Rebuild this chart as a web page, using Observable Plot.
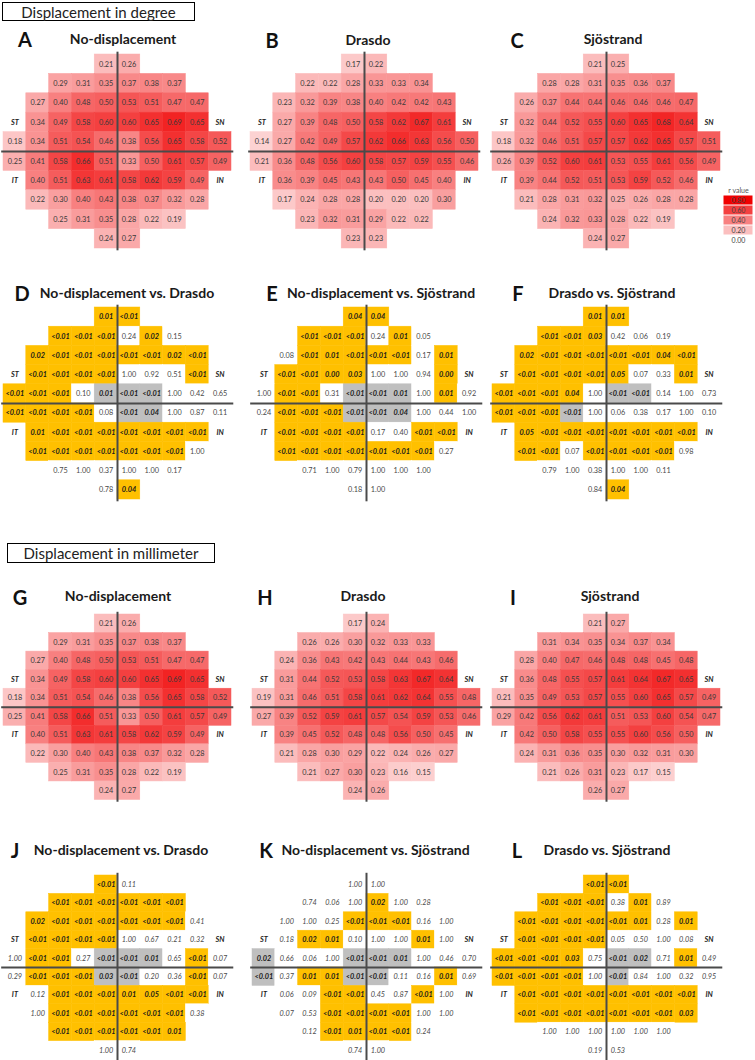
<!DOCTYPE html>
<html><head><meta charset="utf-8">
<script src="https://cdn.jsdelivr.net/npm/d3@7"></script>
<script src="https://cdn.jsdelivr.net/npm/@observablehq/plot@0.6"></script>
<style>
body{margin:0;background:#fff;}
#page{position:relative;width:755px;height:1060px;overflow:hidden;font-family:Lato,"Open Sans",sans-serif;color:#111;}
.box{position:absolute;border:1px solid #000;box-sizing:border-box;font-size:15px;display:flex;align-items:center;justify-content:center;background:#fff;color:#222;}
.letter{position:absolute;font-weight:bold;font-size:20px;transform:translate(-50%,-50%);line-height:1;}
.ptitle{position:absolute;font-weight:bold;font-size:14px;transform:translate(-50%,-50%);white-space:nowrap;line-height:1;color:#1a1a1a;}
</style></head><body><div id="page"></div>
<script>
// ---- grid layout of the 10-2 test pattern (first column index of each row) ----
const rowStartCol = [5,3,2,2,1,1,2,2,3,5];
const quadrantLabels = [{label:"ST",row:4,col:1},{label:"SN",row:4,col:10},{label:"IT",row:7,col:1},{label:"IN",row:7,col:10}];

// ---- r values, displacement in degree ----
const rNoDispDeg = [
 [0.21,0.26],
 [0.29,0.31,0.35,0.37,0.38,0.37],
 [0.27,0.40,0.48,0.50,0.53,0.51,0.47,0.47],
 [0.34,0.49,0.58,0.60,0.60,0.65,0.69,0.65],
 [0.18,0.34,0.51,0.54,0.46,0.38,0.56,0.65,0.58,0.52],
 [0.25,0.41,0.58,0.66,0.51,0.33,0.50,0.61,0.57,0.49],
 [0.40,0.51,0.63,0.61,0.58,0.62,0.59,0.49],
 [0.22,0.30,0.40,0.43,0.38,0.37,0.32,0.28],
 [0.25,0.31,0.35,0.28,0.22,0.19],
 [0.24,0.27]];
const rDrasdoDeg = [
 [0.17,0.22],
 [0.22,0.22,0.28,0.33,0.33,0.34],
 [0.23,0.32,0.39,0.38,0.40,0.42,0.42,0.43],
 [0.27,0.39,0.48,0.50,0.58,0.62,0.67,0.61],
 [0.14,0.27,0.42,0.49,0.57,0.62,0.66,0.63,0.56,0.50],
 [0.21,0.36,0.48,0.56,0.60,0.58,0.57,0.59,0.55,0.46],
 [0.36,0.39,0.45,0.43,0.43,0.50,0.45,0.40],
 [0.17,0.24,0.28,0.28,0.20,0.20,0.20,0.30],
 [0.23,0.32,0.31,0.29,0.22,0.22],
 [0.23,0.23]];
const rSjostrandDeg = [
 [0.21,0.25],
 [0.28,0.28,0.31,0.35,0.36,0.37],
 [0.26,0.37,0.44,0.44,0.46,0.46,0.46,0.47],
 [0.32,0.44,0.52,0.55,0.60,0.65,0.68,0.64],
 [0.18,0.32,0.46,0.51,0.57,0.57,0.62,0.65,0.57,0.51],
 [0.26,0.39,0.52,0.60,0.61,0.53,0.55,0.61,0.56,0.49],
 [0.39,0.44,0.52,0.51,0.53,0.59,0.52,0.46],
 [0.21,0.28,0.31,0.32,0.25,0.26,0.28,0.28],
 [0.24,0.32,0.33,0.28,0.22,0.19],
 [0.24,0.27]];

// ---- p values, displacement in degree (s = significant, n = not significant, g = grey cell) ----
const pNoDispVsDrasdoDeg = [
 ["0.01","<0.01"],
 ["<0.01","<0.01","<0.01","0.24","0.02","0.15"],
 ["0.02","<0.01","<0.01","<0.01","<0.01","<0.01","0.02","<0.01"],
 ["<0.01","<0.01","<0.01","<0.01","1.00","0.92","0.51","<0.01"],
 ["<0.01","<0.01","<0.01","0.10","0.01","<0.01","<0.01","1.00","0.42","0.65"],
 ["<0.01","<0.01","<0.01","<0.01","0.08","<0.01","0.04","1.00","0.87","0.11"],
 ["0.01","<0.01","<0.01","<0.01","<0.01","<0.01","<0.01","<0.01"],
 ["<0.01","<0.01","<0.01","<0.01","<0.01","<0.01","<0.01","1.00"],
 ["0.75","1.00","0.37","1.00","1.00","0.17"],
 ["0.78","0.04"]];
const sigNoDispVsDrasdoDeg = ["ss","sssnsn","ssssssss","ssssnnns","sssngggnnn","ssssnggnnn","ssssssss","sssssssn","nnnnnn","ns"];

const pNoDispVsSjostrandDeg = [
 ["0.04","0.04"],
 ["<0.01","<0.01","<0.01","0.24","0.01","0.05"],
 ["0.08","<0.01","0.01","<0.01","<0.01","<0.01","0.17","0.01"],
 ["<0.01","<0.01","0.00","0.03","1.00","1.00","0.94","0.00"],
 ["1.00","<0.01","<0.01","0.31","<0.01","<0.01","0.01","1.00","0.01","0.92"],
 ["0.24","<0.01","<0.01","<0.01","<0.01","<0.01","0.04","1.00","0.44","1.00"],
 ["<0.01","<0.01","<0.01","<0.01","0.17","0.40","<0.01","<0.01"],
 ["<0.01","<0.01","<0.01","<0.01","<0.01","<0.01","<0.01","0.27"],
 ["0.71","1.00","0.79","1.00","1.00","1.00"],
 ["0.18","1.00"]];
const sigNoDispVsSjostrandDeg = ["ss","sssnsn","nsssssns","ssssnnns","nssngggnsn","nsssgggnnn","ssssnnss","sssssssn","nnnnnn","nn"];

const pDrasdoVsSjostrandDeg = [
 ["0.01","0.01"],
 ["<0.01","<0.01","0.03","0.42","0.06","0.19"],
 ["0.02","<0.01","<0.01","<0.01","<0.01","<0.01","0.04","<0.01"],
 ["<0.01","<0.01","<0.01","<0.01","0.05","0.07","0.33","0.01"],
 ["<0.01","<0.01","<0.01","0.04","1.00","<0.01","<0.01","0.14","1.00","0.73"],
 ["<0.01","<0.01","<0.01","<0.01","1.00","0.06","0.38","0.17","1.00","0.10"],
 ["0.05","<0.01","<0.01","<0.01","<0.01","<0.01","<0.01","<0.01"],
 ["<0.01","<0.01","0.07","<0.01","<0.01","<0.01","<0.01","0.98"],
 ["0.79","1.00","0.38","1.00","1.00","0.11"],
 ["0.84","0.04"]];
const sigDrasdoVsSjostrandDeg = ["ss","sssnnn","ssssssss","sssssnns","ssssnggnnn","sssgnnnnnn","ssssssss","ssnssssn","nnnnnn","ns"];

// ---- r values, displacement in millimeter ----
const rNoDispMm = [
 [0.21,0.26],
 [0.29,0.31,0.35,0.37,0.38,0.37],
 [0.27,0.40,0.48,0.50,0.53,0.51,0.47,0.47],
 [0.34,0.49,0.58,0.60,0.60,0.65,0.69,0.65],
 [0.18,0.34,0.51,0.54,0.46,0.38,0.56,0.65,0.58,0.52],
 [0.25,0.41,0.58,0.66,0.51,0.33,0.50,0.61,0.57,0.49],
 [0.40,0.51,0.63,0.61,0.58,0.62,0.59,0.49],
 [0.22,0.30,0.40,0.43,0.38,0.37,0.32,0.28],
 [0.25,0.31,0.35,0.28,0.22,0.19],
 [0.24,0.27]];
const rDrasdoMm = [
 [0.17,0.24],
 [0.26,0.26,0.30,0.32,0.33,0.33],
 [0.24,0.36,0.43,0.42,0.43,0.44,0.43,0.46],
 [0.31,0.44,0.52,0.53,0.58,0.63,0.67,0.64],
 [0.19,0.31,0.46,0.51,0.58,0.61,0.62,0.64,0.55,0.48],
 [0.27,0.39,0.52,0.59,0.61,0.57,0.54,0.59,0.53,0.46],
 [0.39,0.45,0.52,0.48,0.48,0.56,0.50,0.45],
 [0.21,0.28,0.30,0.29,0.22,0.24,0.26,0.27],
 [0.21,0.27,0.30,0.23,0.16,0.15],
 [0.24,0.26]];
const rSjostrandMm = [
 [0.21,0.27],
 [0.31,0.34,0.35,0.34,0.37,0.34],
 [0.28,0.40,0.47,0.46,0.48,0.48,0.45,0.48],
 [0.36,0.48,0.55,0.57,0.61,0.64,0.67,0.65],
 [0.21,0.35,0.49,0.53,0.57,0.55,0.60,0.65,0.57,0.49],
 [0.29,0.42,0.56,0.62,0.61,0.51,0.53,0.60,0.54,0.47],
 [0.42,0.50,0.58,0.55,0.55,0.60,0.56,0.50],
 [0.24,0.31,0.36,0.35,0.30,0.32,0.31,0.30],
 [0.21,0.26,0.31,0.23,0.17,0.15],
 [0.26,0.27]];

// ---- p values, displacement in millimeter ----
const pNoDispVsDrasdoMm = [
 ["<0.01","0.11"],
 ["<0.01","<0.01","<0.01","<0.01","<0.01","<0.01"],
 ["0.02","<0.01","<0.01","<0.01","<0.01","<0.01","<0.01","0.41"],
 ["<0.01","<0.01","<0.01","<0.01","1.00","0.67","0.21","0.32"],
 ["1.00","<0.01","<0.01","0.27","<0.01","<0.01","0.01","0.65","<0.01","0.07"],
 ["0.29","<0.01","<0.01","<0.01","0.03","<0.01","0.20","0.36","<0.01","0.07"],
 ["0.12","<0.01","<0.01","<0.01","0.01","0.05","<0.01","<0.01"],
 ["1.00","<0.01","<0.01","<0.01","<0.01","<0.01","<0.01","0.38"],
 ["<0.01","<0.01","<0.01","<0.01","<0.01","0.01"],
 ["1.00","0.74"]];
const sigNoDispVsDrasdoMm = ["sn","ssssss","sssssssn","ssssnnnn","nssngggnsn","nsssggnnsn","nsssssss","nssssssn","ssssss","nn"];

const pNoDispVsSjostrandMm = [
 ["1.00","1.00"],
 ["0.74","0.06","1.00","0.02","1.00","0.28"],
 ["1.00","1.00","0.25","<0.01","<0.01","<0.01","0.16","1.00"],
 ["0.18","0.02","0.01","0.10","1.00","1.00","0.01","1.00"],
 ["0.02","0.66","0.06","1.00","<0.01","<0.01","0.01","1.00","0.46","0.70"],
 ["<0.01","0.37","0.01","0.01","<0.01","<0.01","0.11","0.16","0.01","0.69"],
 ["0.06","0.09","<0.01","<0.01","0.45","0.87","<0.01","1.00"],
 ["0.07","0.53","<0.01","<0.01","<0.01","<0.01","1.00","1.00"],
 ["0.12","<0.01","0.01","<0.01","<0.01","0.24"],
 ["0.74","1.00"]];
const sigNoDispVsSjostrandMm = ["nn","nnnsnn","nnnsssnn","nssnnnsn","gnnngggnnn","gnssggnnsn","nnssnnsn","nnssssnn","nssssn","nn"];

const pDrasdoVsSjostrandMm = [
 ["<0.01","<0.01"],
 ["<0.01","<0.01","<0.01","0.38","0.01","0.89"],
 ["<0.01","<0.01","<0.01","<0.01","<0.01","0.01","0.28","0.01"],
 ["<0.01","<0.01","<0.01","<0.01","0.05","0.50","1.00","0.08"],
 ["<0.01","<0.01","<0.01","0.03","0.75","<0.01","0.02","0.71","0.01","0.49"],
 ["<0.01","<0.01","<0.01","<0.01","1.00","<0.01","0.84","1.00","0.32","0.95"],
 ["<0.01","<0.01","<0.01","<0.01","<0.01","<0.01","<0.01","<0.01"],
 ["<0.01","<0.01","<0.01","<0.01","<0.01","<0.01","<0.01","0.03"],
 ["1.00","1.00","1.00","1.00","1.00","1.00"],
 ["0.19","0.53"]];
const sigDrasdoVsSjostrandMm = ["ss","sssnsn","ssssssns","ssssnnnn","ssssnggnsn","ssssngnnnn","ssssssss","ssssssss","nnnnnn","nn"];

// ---- legend ----
const legendTitle = "r value";
const legendValues = [0.80,0.60,0.40,0.20,0.00];

// ---- section headings ----
const sectionTitles = ["Displacement in degree","Displacement in millimeter"];

// ---- panel arrangement ----
const panels = [
 {id:"A",title:"No-displacement",values:rNoDispDeg,cx:117.2,lineY:151,rowH:19.4,letter:[25,39],tpos:[123,39]},
 {id:"B",title:"Drasdo",values:rDrasdoDeg,cx:363.5,lineY:151,rowH:19.4,letter:[272,40],tpos:[368,40]},
 {id:"C",title:"Sjöstrand",values:rSjostrandDeg,cx:606,lineY:151,rowH:19.4,letter:[517,40],tpos:[613,39]},
 {id:"D",title:"No-displacement vs. Drasdo",values:pNoDispVsDrasdoDeg,sig:sigNoDispVsDrasdoDeg,cx:117.2,lineY:403.3,rowH:19.2,letter:[22,293],tpos:[127,293]},
 {id:"E",title:"No-displacement vs. Sjöstrand",values:pNoDispVsSjostrandDeg,sig:sigNoDispVsSjostrandDeg,cx:365.5,lineY:403.3,rowH:19.2,letter:[272,293],tpos:[381,293]},
 {id:"F",title:"Drasdo vs. Sjöstrand",values:pDrasdoVsSjostrandDeg,sig:sigDrasdoVsSjostrandDeg,cx:605.7,lineY:403.3,rowH:19.2,letter:[518,293],tpos:[612,293]},
 {id:"G",title:"No-displacement",values:rNoDispMm,cx:117.2,lineY:706.7,rowH:18.55,letter:[20,597],tpos:[118,596]},
 {id:"H",title:"Drasdo",values:rDrasdoMm,cx:365.5,lineY:706.7,rowH:18.55,letter:[265,597],tpos:[363,596]},
 {id:"I",title:"Sjöstrand",values:rSjostrandMm,cx:606,lineY:706.7,rowH:18.55,letter:[513,597],tpos:[610,596]},
 {id:"J",title:"No-displacement vs. Drasdo",values:pNoDispVsDrasdoMm,sig:sigNoDispVsDrasdoMm,italicNs:true,cx:117.2,lineY:966.7,rowH:18.4,letter:[15,850],tpos:[121,850]},
 {id:"K",title:"No-displacement vs. Sjöstrand",values:pNoDispVsSjostrandMm,sig:sigNoDispVsSjostrandMm,italicNs:true,cx:365.5,lineY:966.7,rowH:18.4,letter:[266,850],tpos:[375.5,850]},
 {id:"L",title:"Drasdo vs. Sjöstrand",values:pDrasdoVsSjostrandMm,sig:sigDrasdoVsSjostrandMm,italicNs:true,cx:606,lineY:966.7,rowH:18.4,letter:[517,850],tpos:[607,850]}
];

const page = document.getElementById("page");
const FONT = "Lato, 'Open Sans', sans-serif";

function addDiv(cls, text, css){
  const d = document.createElement("div");
  d.className = cls; d.textContent = text;
  Object.assign(d.style, css);
  page.appendChild(d);
  return d;
}

addDiv("box", sectionTitles[0], {left:"2px",top:"2px",width:"193px",height:"19px"});
addDiv("box", sectionTitles[1], {left:"7px",top:"543px",width:"208px",height:"20px"});

function buildCells(values, sig){
  const out = [];
  values.forEach((rowVals, ri) => {
    rowVals.forEach((v, i) => {
      out.push({row: ri+1, col: rowStartCol[ri]+i, value: v,
        status: sig ? sig[ri][i] : null,
        label: typeof v === "number" ? v.toFixed(2) : v});
    });
  });
  return out;
}

function drawPanel(p){
  const cw = 22.8, W = 250, pad = 15;
  const H = 10*p.rowH + 2*pad;
  const cells = buildCells(p.values, p.sig);
  const isR = !p.sig;
  const fs = 7.3;
  const marks = [
    Plot.rect(cells, {x1: d=>d.col-0.5, x2: d=>d.col+0.5, y1: d=>d.row-0.5, y2: d=>d.row+0.5,
      fill: isR ? "value" : "status", stroke: isR ? "value" : "status", strokeWidth: 0.5})
  ];
  if (isR) {
    marks.push(Plot.text(cells, {x:"col", y:"row", text:"label", fill:"#3a3a3a", fontSize:fs}));
  } else {
    marks.push(Plot.text(cells.filter(d=>d.status!=="n"), {x:"col", y:"row", text:"label", fill:"#1a1a1a", fontSize:fs, fontWeight:"bold", fontStyle:"italic"}));
    marks.push(Plot.text(cells.filter(d=>d.status==="n"), {x:"col", y:"row", text:"label", fill:"#4a4a4a", fontSize:fs, fontStyle: p.italicNs ? "italic" : "normal"}));
  }
  marks.push(Plot.ruleX([{x:5.5, y1:0.38, y2:10.62}], {x:"x", y1:"y1", y2:"y2", stroke:"#4a4a4a", strokeWidth:2}));
  marks.push(Plot.ruleY([{y:5.5, x1:0.42, x2:10.6}], {y:"y", x1:"x1", x2:"x2", stroke:"#4a4a4a", strokeWidth:2}));
  marks.push(Plot.text(quadrantLabels, {x:"col", y:"row", text:"label", fill:"#222", fontSize:fs, fontWeight:"bold", fontStyle:"italic"}));
  const svg = Plot.plot({
    width: W, height: H, margin: 0,
    x: {domain:[0.5,10.5], range:[W/2-5*cw, W/2+5*cw], axis:null},
    y: {domain:[0.5,10.5], range:[pad, pad+10*p.rowH], axis:null},
    color: isR ? {type:"linear", domain:[0,0.8], range:["#ffffff","#f00000"], clamp:true}
               : {type:"ordinal", domain:["s","n","g"], range:["#ffc000","#ffffff","#bfbfbf"]},
    style: {background:"transparent", overflow:"visible", fontFamily: FONT},
    marks
  });
  svg.style.position = "absolute";
  svg.style.left = (p.cx - W/2) + "px";
  svg.style.top = (p.lineY - 5*p.rowH - pad) + "px";
  page.appendChild(svg);
  addDiv("letter", p.id, {left: p.letter[0]+"px", top: p.letter[1]+"px"});
  addDiv("ptitle", p.title, {left: p.tpos[0]+"px", top: p.tpos[1]+"px"});
}

panels.forEach(drawPanel);

// legend
const legLabels = legendValues.map(v => v.toFixed(2));
const legend = Plot.plot({
  width: 40, height: 70, margin: 0,
  x: {type:"band", domain:["r"], range:[4.7,35.3], padding:0, axis:null},
  y: {type:"band", domain: legLabels, range:[13,67], padding:0, axis:null},
  color: {type:"linear", domain:[0,0.8], range:["#ffffff","#f00000"]},
  style: {background:"transparent", overflow:"visible", fontFamily: FONT},
  marks: [
    Plot.cell(legendValues, {x: () => "r", y: d => d.toFixed(2), fill: d => d, inset: 0.5}),
    Plot.text(legendValues, {x: () => "r", y: d => d.toFixed(2), text: d => d.toFixed(2), fill:"#444", fontSize:7}),
    Plot.text([legendTitle], {frameAnchor:"top", dy:8, text: d => d, fill:"#555", fontSize:7})
  ]
});
legend.style.position = "absolute";
legend.style.left = "718px";
legend.style.top = "180px";
page.appendChild(legend);
</script>
</body></html>
